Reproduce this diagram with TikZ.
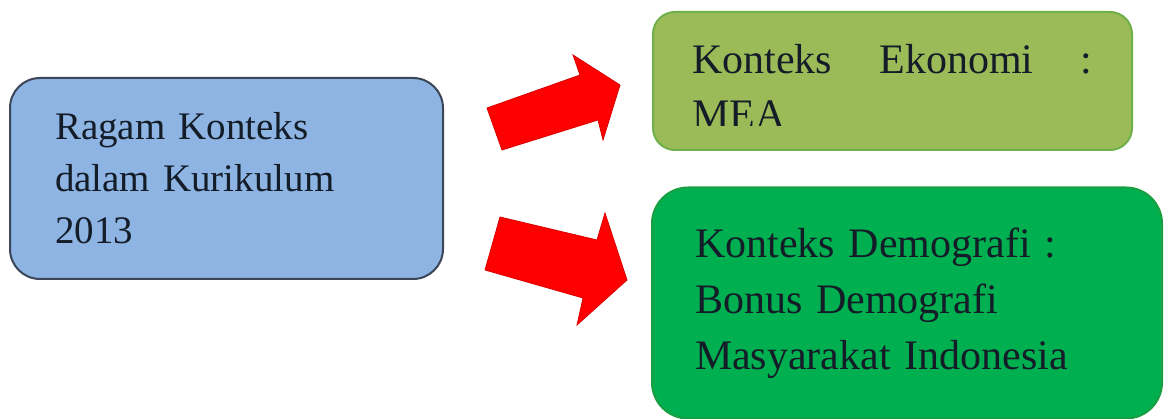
\documentclass[tikz,border=0pt]{standalone}
\usepackage{fontspec}
\setmainfont{Liberation Serif}
\begin{document}
\begin{tikzpicture}[x=1pt,y=-1pt,
  box/.style={rectangle, rounded corners=#1, line width=2pt, inner xsep=0pt, inner ysep=0pt, align=left},
  blockarrow/.style={fill=red, draw=red!85!black, line width=0.8pt, line join=miter},
]
\definecolor{boxblue}{HTML}{8DB4E2}
\definecolor{boxblueline}{HTML}{3C4658}
\definecolor{boxolive}{HTML}{9BBB59}
\definecolor{boxoliveline}{HTML}{6FB04A}
\definecolor{boxgreen}{HTML}{00B050}
\definecolor{boxgreenline}{HTML}{1A9E42}
\definecolor{inktext}{HTML}{141C28}

\useasboundingbox (0,0) rectangle (1173,419);

% source box
\node[box=30pt, fill=boxblue, draw=boxblueline, minimum width=433pt, minimum height=201pt,
      text width=343pt, text=inktext, font=\fontsize{39}{52}\selectfont]
  (ragam) at (226.5,178.5) {Ragam Konteks\\dalam Kurikulum\\2013};

% economic context box (second line runs past the lower edge and is cut off)
\node[box=22pt, fill=boxolive, draw=boxoliveline, minimum width=479pt, minimum height=138pt]
  (ekonomi) at (892.5,81) {};
\begin{scope}
  \clip (653,12) rectangle (1132,126);
  % base anchor sits on the last line's baseline
  \node[anchor=base west, inner sep=0pt, align=left, text=inktext,
        font=\fontsize{42}{55}\selectfont]
    (ekonomitext) at (692,129) {\hbox to 400pt{Konteks\hfill Ekonomi\hfill :}\\MEA};
\end{scope}

% demographic context box
\node[box=36pt, fill=boxgreen, draw=boxgreenline, minimum width=510pt, minimum height=231pt,
      text width=424pt, text=inktext, font=\fontsize{42}{56}\selectfont]
  (demografi) at (907,303) {Konteks Demografi :\\Bonus Demografi\\Masyarakat Indonesia};

% block arrows
\coordinate (upA) at (487,108);
\fill[blockarrow] (upA) -- (580,75) -- (573,55) -- (620,85) -- (603,140) -- (598,120) -- (502,150) -- cycle;
\coordinate (downA) at (500,217);
\fill[blockarrow] (downA) -- (597,240) -- (605,213) -- (627,280) -- (577,325) -- (583,298) -- (485,270) -- cycle;
\end{tikzpicture}
\end{document}
